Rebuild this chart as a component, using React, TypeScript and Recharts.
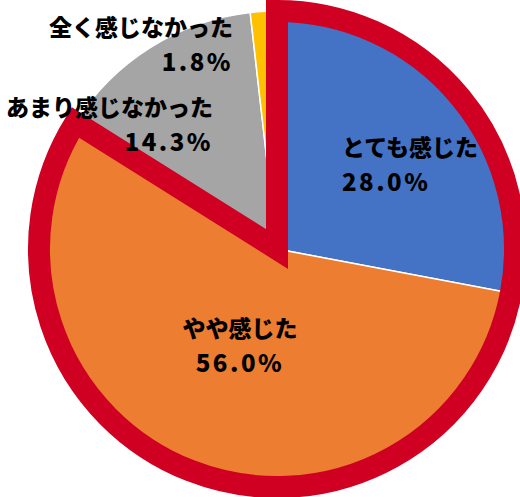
import React from "react";
import { PieChart, Pie, Cell } from "recharts";

const categories = ["とても感じた", "やや感じた", "あまり感じなかった", "全く感じなかった"];
const shares = [28.0, 56.0, 14.3, 1.8];
const colors = ["#4472C4", "#ED7D31", "#A5A5A5", "#FFC000"];

// slices wrapped by the red outline
const highlighted = [0, 1];

// label placement: radius as fraction of outerRadius, angle in degrees (recharts convention)
const labelLayout = [
  { r: 0.446, angle: 52.3, anchor: "start" },
  { r: 0.436, angle: -110.9, anchor: "middle" },
  { r: 0.586, angle: 117.3, anchor: "end" },
  { r: 0.875, angle: 102.2, anchor: "end" },
];

const RADIAN = Math.PI / 180;
const FONT = "'Noto Sans CJK JP', 'Noto Sans', sans-serif";

const data = categories.map((name, i) => ({ name, value: shares[i] }));

const highlightTotal = highlighted.reduce((s, i) => s + shares[i], 0);
const total = shares.reduce((s, v) => s + v, 0);
const outlineData = [
  { name: "outline", value: highlightTotal },
  { name: "rest", value: total - highlightTotal },
];

const renderLabel = (props: any) => {
  const { cx, cy, outerRadius, index } = props;
  const lay = labelLayout[index];
  const r = outerRadius * lay.r;
  const x = cx + r * Math.cos(lay.angle * RADIAN);
  const y = cy - r * Math.sin(lay.angle * RADIAN);
  return (
    <text
      x={x}
      y={y}
      textAnchor={lay.anchor}
      fontFamily={FONT}
      fontWeight={900}
      fontSize={23}
      fill="#000"
    >
      <tspan x={x} dy={-9}>
        {categories[index]}
      </tspan>
      <tspan x={x} dy={35} fontSize={24} letterSpacing={2.5}>
        {shares[index].toFixed(1)}%
      </tspan>
    </text>
  );
};

export default function App() {
  return (
    <div style={{ position: "absolute", left: 0, top: 0 }}>
      <PieChart width={520} height={497} margin={{ top: 0, right: 0, bottom: 0, left: 0 }}>
        <Pie
          data={data}
          dataKey="value"
          nameKey="name"
          cx={277}
          cy={249}
          outerRadius={238}
          startAngle={90}
          endAngle={-270}
          stroke="#fff"
          strokeWidth={1.5}
          label={renderLabel}
          labelLine={false}
          isAnimationActive={false}
        >
          {data.map((d, i) => (
            <Cell key={d.name} fill={colors[i]} />
          ))}
        </Pie>
        <Pie
          data={outlineData}
          dataKey="value"
          cx={277}
          cy={249}
          outerRadius={238}
          startAngle={90}
          endAngle={-270}
          isAnimationActive={false}
          legendType="none"
        >
          <Cell fill="none" stroke="#CF0022" strokeWidth={22} strokeLinejoin="miter" />
          <Cell fill="none" stroke="none" />
        </Pie>
      </PieChart>
    </div>
  );
}
